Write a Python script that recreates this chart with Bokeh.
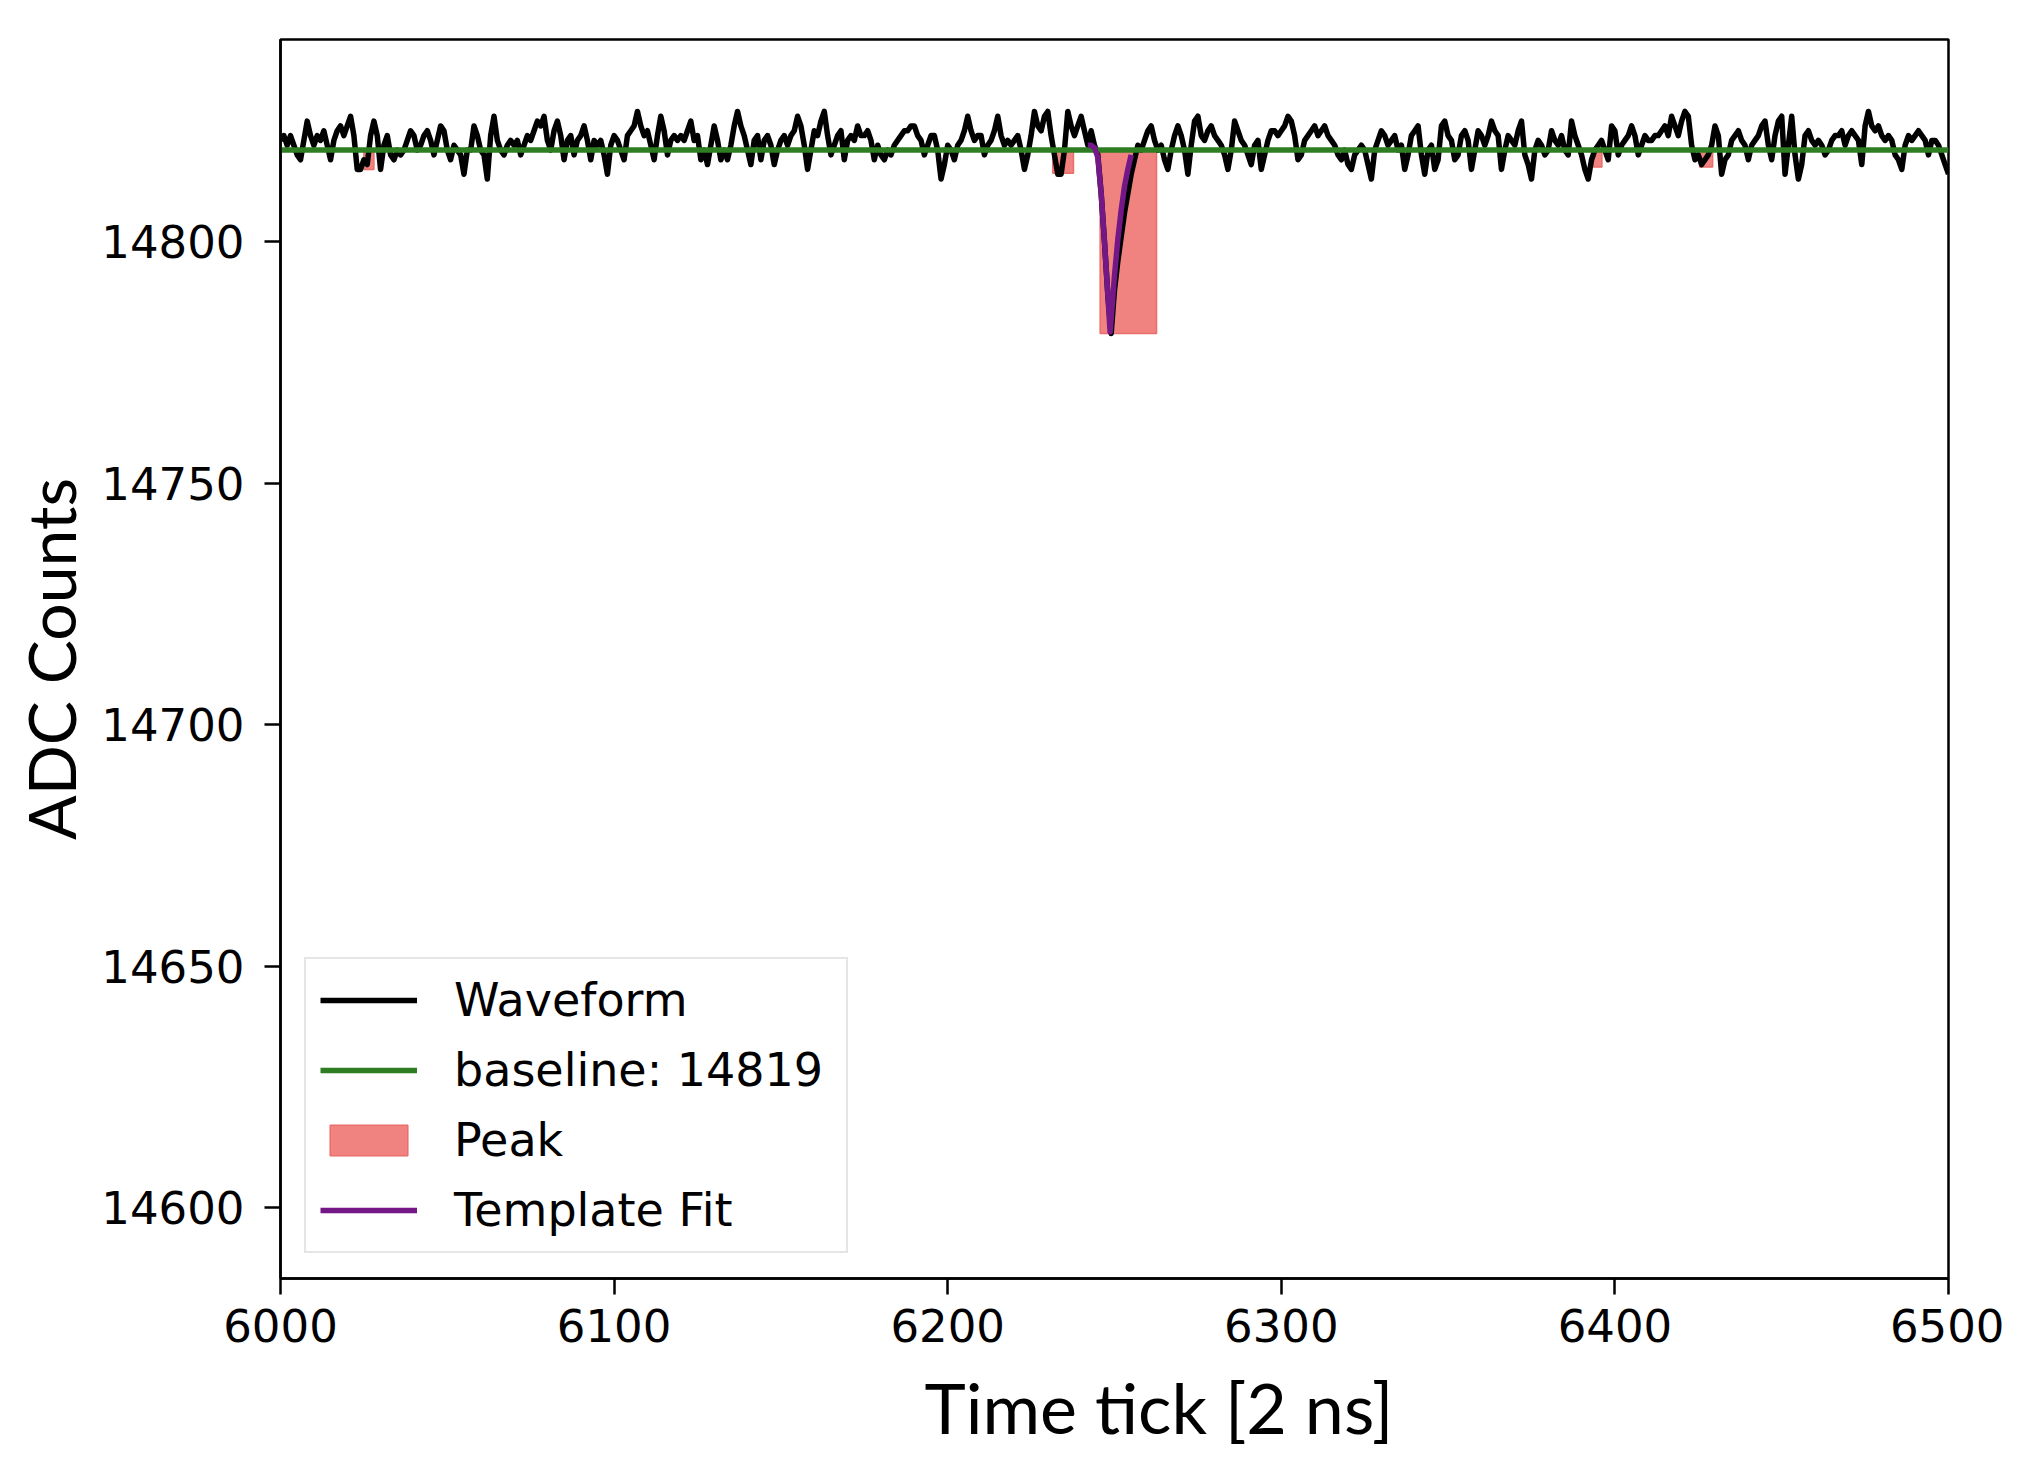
from bokeh.plotting import figure
from bokeh.models import Range1d, FixedTicker, Legend, LegendItem, Title
from bokeh.embed import file_html
from bokeh.resources import INLINE

# ---------------- data ----------------
time_tick = list(range(6000, 6501))

adc_counts = [
    # 6000-6084
    14821, 14822, 14820, 14822, 14820, 14818, 14817, 14821, 14825, 14822,
    14820, 14822, 14821, 14823, 14820, 14817, 14821, 14823, 14824, 14822,
    14824, 14826, 14822, 14815, 14815, 14817, 14816, 14822, 14825, 14822,
    14815, 14820, 14822, 14818, 14817, 14819, 14818, 14819, 14821, 14823,
    14822, 14819, 14820, 14822, 14823, 14821, 14818, 14821, 14824, 14823,
    14819, 14817, 14820, 14819, 14818, 14814, 14819, 14819, 14824, 14822,
    14819, 14818, 14813, 14822, 14826, 14821, 14819, 14818, 14820, 14821,
    14820, 14821, 14818, 14820, 14822, 14821, 14823, 14825, 14824, 14826,
    14821, 14819, 14823, 14825, 14822,
    # 6085-6168
    14817, 14821, 14822, 14818, 14821, 14822, 14824, 14821, 14817, 14821,
    14820, 14821, 14818, 14814, 14820, 14822, 14821, 14819, 14817, 14822,
    14823, 14824, 14827, 14824, 14822, 14823, 14820, 14817, 14822, 14826,
    14823, 14818, 14821, 14822, 14821, 14822, 14821, 14823, 14825, 14821,
    14822, 14817, 14819, 14816, 14820, 14824, 14821, 14817, 14819, 14817,
    14820, 14824, 14827, 14824, 14822, 14819, 14816, 14821, 14822, 14817,
    14821, 14822, 14820, 14816, 14819, 14821, 14822, 14820, 14822, 14823,
    14826, 14824, 14820, 14815, 14819, 14823, 14822, 14825, 14827, 14822,
    14818, 14820, 14822, 14823,
    # 6169-6244
    14817, 14821, 14822, 14821, 14824, 14822, 14822, 14823, 14821, 14817,
    14820, 14818, 14817, 14819, 14818, 14820, 14821, 14822, 14823, 14823,
    14824, 14824, 14822, 14821, 14818, 14820, 14822, 14822, 14819, 14813,
    14816, 14820, 14819, 14817, 14820, 14821, 14823, 14826, 14823, 14821,
    14822, 14822, 14818, 14820, 14821, 14823, 14826, 14822, 14820, 14821,
    14820, 14821, 14822, 14819, 14815, 14818, 14822, 14827, 14824, 14823,
    14826, 14827, 14822, 14818, 14814, 14814, 14819, 14827, 14824, 14822,
    14824, 14826, 14823, 14820, 14823, 14820,
    # 6245-6257 (pulse)
    14818, 14810, 14800, 14789, 14781, 14790, 14796, 14801, 14806, 14810,
    14814, 14817, 14820,
    # 6258-6335
    14819, 14821, 14823, 14824, 14821, 14819, 14820, 14817, 14815, 14819,
    14822, 14824, 14822, 14819, 14814, 14820, 14825, 14826, 14822, 14821,
    14823, 14824, 14822, 14821, 14820, 14818, 14815, 14819, 14825, 14823,
    14821, 14820, 14818, 14816, 14820, 14821, 14815, 14818, 14821, 14823,
    14823, 14822, 14823, 14824, 14826, 14825, 14822, 14817, 14818, 14821,
    14822, 14823, 14824, 14822, 14823, 14824, 14822, 14821, 14820, 14818,
    14817, 14819, 14816, 14815, 14818, 14819, 14820, 14819, 14816, 14813,
    14819, 14821, 14823, 14822, 14820, 14821, 14822, 14819,
    # 6336-6416
    14820, 14815, 14818, 14822, 14823, 14824, 14818, 14814, 14819, 14820,
    14815, 14817, 14824, 14825, 14822, 14821, 14817, 14818, 14822, 14823,
    14821, 14815, 14819, 14823, 14822, 14820, 14822, 14825, 14823, 14822,
    14815, 14819, 14822, 14821, 14820, 14823, 14825, 14818, 14816, 14813,
    14819, 14821, 14820, 14818, 14819, 14823, 14821, 14820, 14822, 14819,
    14818, 14825, 14822, 14820, 14818, 14815, 14813, 14817, 14819, 14820,
    14821, 14819, 14817, 14824, 14823, 14818, 14820, 14821, 14822, 14824,
    14822, 14818, 14820, 14822, 14821, 14821, 14822, 14822, 14823, 14824,
    14822,
    # 6417-6500
    14826, 14824, 14822, 14825, 14827, 14826, 14820, 14817, 14818, 14816,
    14817, 14818, 14820, 14824, 14822, 14814, 14817, 14818, 14821, 14822,
    14823, 14821, 14820, 14817, 14820, 14821, 14822, 14824, 14825, 14820,
    14817, 14822, 14825, 14826, 14814, 14820, 14826, 14818, 14813, 14816,
    14822, 14823, 14821, 14820, 14821, 14820, 14818, 14819, 14821, 14822,
    14822, 14823, 14820, 14822, 14823, 14822, 14821, 14816, 14824, 14827,
    14824, 14823, 14824, 14822, 14821, 14822, 14821, 14818, 14817, 14815,
    14820, 14822, 14821, 14822, 14823, 14822, 14821, 14818, 14821, 14821,
    14820, 14818, 14816, 14814,
]

baseline_value = 14819

peak_start = [6025.0, 6231.5, 6245.7, 6393.4, 6425.4]
peak_end = [6028.0, 6237.7, 6262.6, 6396.1, 6429.3]
peak_bottom = [14815.0, 14814.2, 14781.0, 14815.5, 14815.5]

template_tick = [6242, 6243, 6244, 6245, 6246, 6247, 6248, 6248.7,
                 6250, 6251, 6252, 6253, 6254, 6255]
template_counts = [14820, 14820, 14819.5, 14817.5, 14810, 14800, 14789, 14781.3,
                   14793, 14800.5, 14806.5, 14811.5, 14815, 14818]

x_ticks = [6000, 6100, 6200, 6300, 6400, 6500]
y_ticks = [14600, 14650, 14700, 14750, 14800]

# ---------------- figure ----------------
p = figure(width=2004, height=1456, output_backend="svg", toolbar_location=None,
           x_range=Range1d(6000, 6500), y_range=Range1d(14585.3, 14841.9),
           min_border_left=280, min_border_right=56,
           min_border_top=39, min_border_bottom=178)
p.grid.visible = False
p.outline_line_color = "black"
p.outline_line_width = 2.5
p.outline_line_alpha = 1.0
p.background_fill_color = "white"
p.border_fill_color = "white"

for ax in (p.xaxis[0], p.yaxis[0]):
    ax.axis_line_width = 2.5
    ax.axis_line_color = "black"
    ax.major_tick_line_width = 2.5
    ax.major_tick_line_color = "black"
    ax.major_tick_out = 16
    ax.major_tick_in = 0
    ax.minor_tick_out = 0
    ax.minor_tick_in = 0
    ax.major_label_text_font = "DejaVu Sans"
    ax.major_label_text_font_size = "45px"
    ax.major_label_text_color = "black"

p.xaxis[0].ticker = FixedTicker(ticks=x_ticks)
p.yaxis[0].ticker = FixedTicker(ticks=y_ticks)
p.xaxis[0].major_label_standoff = 14
p.yaxis[0].major_label_standoff = 20

p.yaxis[0].axis_label = "ADC Counts"
p.yaxis[0].axis_label_text_font = "Lato"
p.yaxis[0].axis_label_text_font_size = "66px"
p.yaxis[0].axis_label_text_font_style = "normal"
p.yaxis[0].axis_label_text_color = "black"
p.yaxis[0].axis_label_standoff = 8

# ---------------- glyphs ----------------
r_peak = p.quad(left=peak_start, right=peak_end,
                top=[baseline_value] * len(peak_start), bottom=peak_bottom,
                fill_color="#f08380", fill_alpha=1.0,
                line_color="#ea6e6a", line_width=1.5)

r_wave = p.line(time_tick, adc_counts, line_color="black", line_width=5.5,
                line_join="round")

r_base = p.line(time_tick, [baseline_value] * len(time_tick),
                line_color="#2e7d22", line_width=5.5)

r_tmpl = p.line(template_tick, template_counts, line_color="#741787",
                line_width=5.5, line_join="round")

legend = Legend(items=[
    LegendItem(label="Waveform", renderers=[r_wave]),
    LegendItem(label="baseline: " + str(baseline_value), renderers=[r_base]),
    LegendItem(label="Peak", renderers=[r_peak]),
    LegendItem(label="Template Fit", renderers=[r_tmpl]),
], location=(24, 25))
legend.label_text_font = "DejaVu Sans"
legend.label_text_font_size = "46px"
legend.label_text_color = "black"
legend.label_width = 378
legend.glyph_width = 97
legend.glyph_height = 38
legend.label_standoff = 37
legend.spacing = 16
legend.padding = 14
legend.margin = 0
legend.border_line_color = "#cccccc"
legend.border_line_width = 2
legend.background_fill_color = "white"
legend.background_fill_alpha = 0.85
p.add_layout(legend)

# small empty spacer panel so the x title sits a little lower
spacer = Title(text=" ", text_font_size="1px", standoff=17)
p.add_layout(spacer, "below")

x_title = Title(text="Time tick [2 ns]", align="left", offset=644,
                vertical_align="top", standoff=0,
                text_font="Lato", text_font_size="70px",
                text_font_style="normal", text_color="black")
p.add_layout(x_title, "below")

open("out.html", "w").write(file_html(p, INLINE))
